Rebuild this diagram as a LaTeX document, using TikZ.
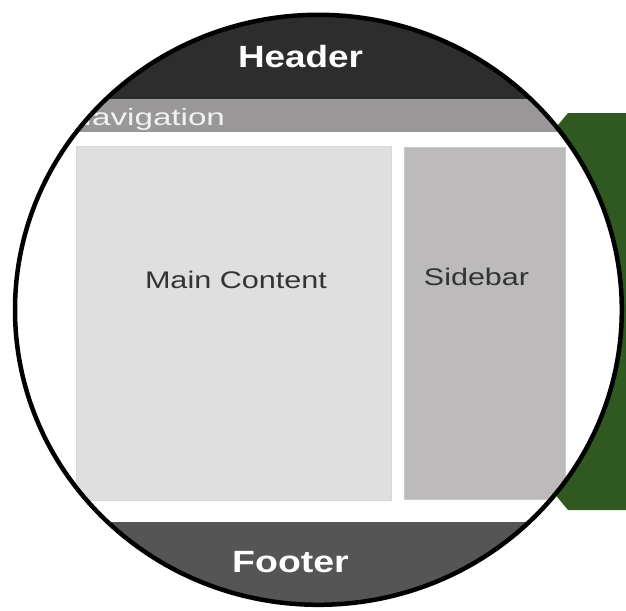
\documentclass[tikz,border=0pt]{standalone}
\usepackage{fontspec}
\setmainfont{Liberation Sans}
\definecolor{hdrc}{RGB}{46,45,46}
\definecolor{navc}{RGB}{153,151,152}
\definecolor{navt}{RGB}{242,242,242}
\definecolor{mainc}{RGB}{223,223,223}
\definecolor{mainb}{RGB}{214,214,214}
\definecolor{sidec}{RGB}{188,186,187}
\definecolor{sideb}{RGB}{200,200,200}
\definecolor{footc}{RGB}{85,85,85}
\definecolor{grn}{RGB}{47,89,33}
\definecolor{txtc}{RGB}{51,51,51}
\tikzset{
  lbl/.style={inner sep=0pt, anchor=base},
  bigbold/.style={lbl, text=white, font=\bfseries\fontsize{30.7}{36}\selectfont},
  midtext/.style={lbl, text=txtc, font=\fontsize{24}{29}\selectfont},
}
\begin{document}
\begin{tikzpicture}[x=1pt,y=-1pt]
\useasboundingbox (0,0) rectangle (626,610);
% green panel behind the circle
\fill[grn] (553,131) -- (568,113) -- (626,113) -- (626,510) -- (568,510) -- (553,492) -- cycle;
% circle interior
\fill[white] (318.4,309.8) ellipse [x radius=303.4, y radius=295];
\begin{scope}
  \clip (318.4,309.8) ellipse [x radius=303.4, y radius=295];
  \fill[hdrc] (0,0) rectangle (626,99);
  \fill[navc] (0,99) rectangle (626,132);
  \filldraw[fill=mainc, draw=mainb, line width=0.8pt] (76,146) rectangle (391.5,500);
  \filldraw[fill=sidec, draw=sideb, line width=0.8pt] (404,147) rectangle (565,499);
  \fill[footc] (0,522) rectangle (626,610);
  \node[bigbold] (hdr) at (300.5,67) {\scalebox{1.2}[1]{Header}};
  \node[lbl, anchor=base west, text=navt, font=\fontsize{23.7}{28}\selectfont] (nav) at (68,125) {\scalebox{1.4}[1]{Navigation}};
  \node[midtext] (main) at (236,288.5) {\scalebox{1.275}[1]{Main Content}};
  \node[midtext] (side) at (476.5,285.5) {\scalebox{1.27}[1]{Sidebar}};
  \node[bigbold] (foot) at (290.5,572) {\scalebox{1.22}[1]{Footer}};
\end{scope}
\draw[line width=4.5pt] (318.4,309.8) ellipse [x radius=303.4, y radius=295];
\end{tikzpicture}
\end{document}
